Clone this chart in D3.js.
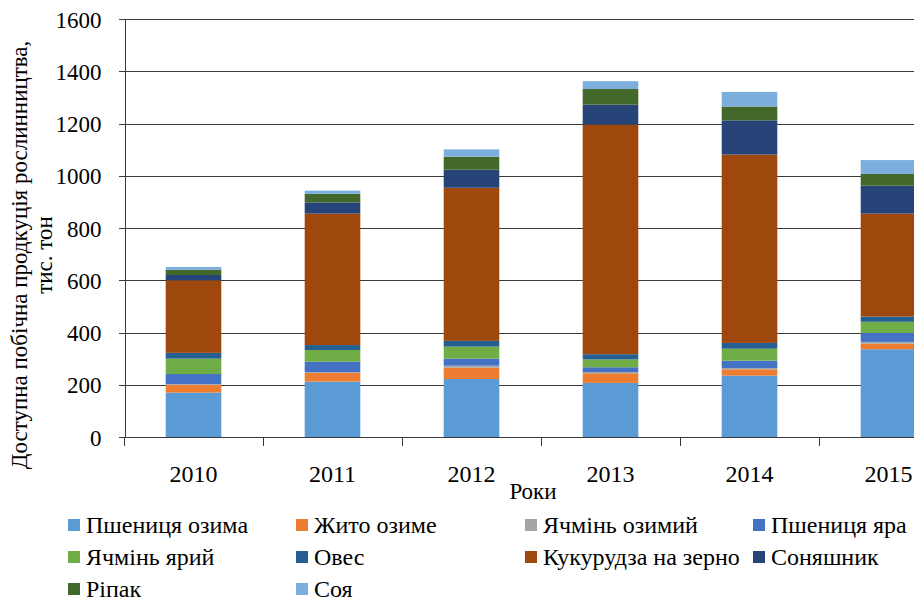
<!DOCTYPE html>
<meta charset="utf-8">
<style>
body { margin: 0; background: #fff; }
svg text { font-family: "Liberation Serif", "Times New Roman", serif; fill: #000; }
.grid line { stroke: #3a3a3a; stroke-width: 1px; shape-rendering: crispEdges; }
.axis path, .axis line { stroke: #3a3a3a; shape-rendering: crispEdges; }
</style>
<svg width="914" height="599"></svg>
<script src="https://d3js.org/d3.v7.min.js"></script>
<script>

var years = ["2010", "2011", "2012", "2013", "2014", "2015"];
var seriesNames = ["Пшениця озима", "Жито озиме", "Ячмінь озимий", "Пшениця яра",
  "Ячмінь ярий", "Овес", "Кукурудза на зерно", "Соняшник", "Ріпак", "Соя"];
var colors = ["#5b9bd5", "#ed7d31", "#a5a5a5", "#4472c4", "#70ad47",
  "#255e91", "#9e480e", "#264478", "#43682b", "#7cafdd"];

// тис. тон, by year
var wheatWinter  = [170, 212, 222, 207, 235, 336];
var ryeWinter    = [30, 34, 43, 37, 24, 21];
var barleyWinter = [2, 2, 8, 4, 5, 7];
var wheatSpring  = [39, 40, 27, 19, 28, 34];
var barleySpring = [59, 45, 46, 30, 46, 43];
var oats         = [22, 19, 22, 20, 22, 20];
var corn         = [278, 503, 586, 879, 721, 394];
var sunflower    = [20, 43, 69, 76, 131, 107];
var rapeseed     = [20, 33, 50, 60, 53, 45];
var soy          = [11, 12, 28, 30, 56, 53];

var yTicks = [0, 200, 400, 600, 800, 1000, 1200, 1400, 1600];

var values = [wheatWinter, ryeWinter, barleyWinter, wheatSpring, barleySpring,
  oats, corn, sunflower, rapeseed, soy];

var rows = years.map(function(y, i) {
  var r = { year: y };
  seriesNames.forEach(function(s, k) { r[s] = values[k][i]; });
  return r;
});

var FONT = "'Liberation Serif', 'Times New Roman', serif";
var svg = d3.select("svg");
var plotL = 124, plotR = 958, plotT = 19, plotB = 437;

var x = d3.scaleBand().domain(years).range([plotL, plotR])
    .paddingInner(0.6).paddingOuter(0.3);
var y = d3.scaleLinear().domain([0, 1600]).range([plotB, plotT]);

// gridlines
svg.append("g").attr("class", "grid")
  .selectAll("line").data(yTicks.slice(1)).enter().append("line")
    .attr("x1", plotL).attr("x2", plotR)
    .attr("y1", function(d) { return Math.round(y(d)) + 0.5; })
    .attr("y2", function(d) { return Math.round(y(d)) + 0.5; });

var stack = d3.stack().keys(seriesNames)(rows);

svg.append("g").selectAll("g").data(stack).enter().append("g")
    .attr("fill", function(d, i) { return colors[i]; })
  .selectAll("rect").data(function(d) { return d; }).enter().append("rect")
    .attr("x", function(d) { return x(d.data.year); })
    .attr("width", x.bandwidth())
    .attr("y", function(d) { return y(d[1]); })
    .attr("height", function(d) { return y(d[0]) - y(d[1]); });

// y axis
var yAxis = svg.append("g").attr("class", "axis")
    .attr("transform", "translate(" + (plotL + 0.5) + ",0)")
    .call(d3.axisLeft(y).tickValues(yTicks).tickFormat(d3.format("d"))
      .tickSize(6).tickPadding(17).tickSizeOuter(0));
yAxis.attr("font-family", null);
yAxis.selectAll("text").style("font-family", FONT).style("font-size", "23px").attr("dy", "0.35em");

// x axis with ticks on category boundaries
var xAxisG = svg.append("g").attr("class", "axis")
    .attr("transform", "translate(0," + (plotB + 0.5) + ")");
xAxisG.append("line").attr("x1", plotL).attr("x2", plotR);
var step = x.step();
xAxisG.selectAll(".bt").data(d3.range(years.length + 1)).enter().append("line")
    .attr("x1", function(i) { return Math.round(plotL + i * step) + 0.5; })
    .attr("x2", function(i) { return Math.round(plotL + i * step) + 0.5; })
    .attr("y1", 0).attr("y2", 8);
xAxisG.selectAll("text").data(years).enter().append("text")
    .attr("x", function(d) { return x(d) + x.bandwidth() / 2; })
    .attr("y", 44)
    .attr("text-anchor", "middle")
    .style("font-family", FONT).style("font-size", "24px")
    .text(function(d) { return d; });

svg.append("text")
    .attr("x", 533).attr("y", 499)
    .attr("text-anchor", "middle")
    .style("font-family", FONT).style("font-size", "23px")
    .text("Роки");

var yl = svg.append("text")
    .attr("transform", "translate(27,255) rotate(-90)")
    .attr("text-anchor", "middle")
    .style("font-family", FONT).style("font-size", "23px");
yl.append("tspan").attr("x", 0).attr("dy", 0).text("Доступна побічна продкуція рослинництва,");
yl.append("tspan").attr("x", 0).attr("dy", 25).text("тис. тон");

// legend
var colX = [68, 296, 525, 753];
var rowY = [525, 557, 589];
var legend = svg.append("g").selectAll("g").data(seriesNames).enter().append("g")
    .attr("transform", function(d, i) {
      return "translate(" + colX[i % 4] + "," + rowY[Math.floor(i / 4)] + ")";
    });
legend.append("rect").attr("x", 0).attr("y", -6).attr("width", 12).attr("height", 12)
    .attr("fill", function(d, i) { return colors[i]; });
legend.append("text").attr("x", 18).attr("dy", "0.35em")
    .style("font-family", FONT).style("font-size", "24px")
    .text(function(d) { return d; });

</script>
